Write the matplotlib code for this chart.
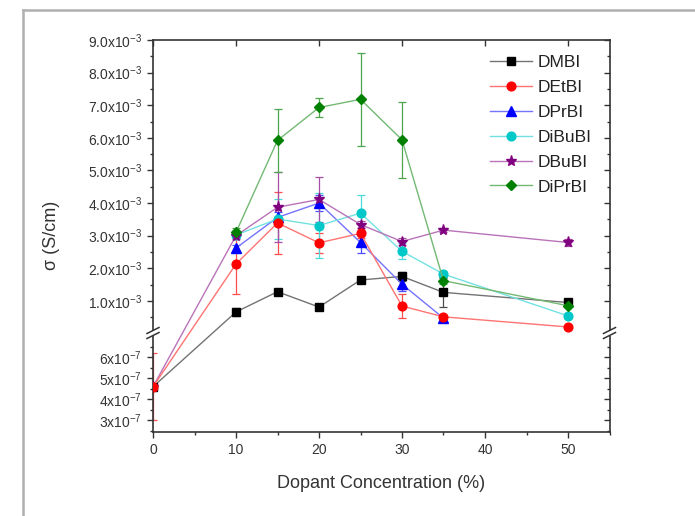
import numpy as np
import matplotlib
matplotlib.use("Agg")
import matplotlib.pyplot as plt
from matplotlib.lines import Line2D
from matplotlib.patches import Rectangle
from matplotlib.ticker import FixedLocator, FixedFormatter

plt.rcParams['font.family'] = ['Liberation Sans', 'DejaVu Sans']
plt.rcParams['mathtext.fontset'] = 'custom'
plt.rcParams['mathtext.rm'] = 'Liberation Sans'
plt.rcParams['mathtext.it'] = 'Liberation Sans:italic'
plt.rcParams['mathtext.bf'] = 'Liberation Sans:bold'

# ---------------- data ----------------
names = ["DMBI", "DEtBI", "DPrBI", "DiBuBI", "DBuBI", "DiPrBI"]

x_dmbi = [0, 10, 15, 20, 25, 30, 35, 50]
y_dmbi = [4.6e-7, 0.66e-3, 1.28e-3, 0.81e-3, 1.64e-3, 1.75e-3, 1.26e-3, 0.95e-3]
e_dmbi = [0, 0.12e-3, 0.05e-3, 0.05e-3, 0.05e-3, 0.14e-3, 0.45e-3, 0.12e-3]

x_detbi = [0, 10, 15, 20, 25, 30, 35, 50]
y_detbi = [4.6e-7, 2.13e-3, 3.39e-3, 2.78e-3, 3.07e-3, 0.84e-3, 0.51e-3, 0.20e-3]
e_detbi = [1.6e-7, 0.92e-3, 0.95e-3, 0.30e-3, 0.15e-3, 0.37e-3, 0.05e-3, 0.03e-3]

x_dprbi = [10, 15, 20, 25, 30, 35]
y_dprbi = [2.62e-3, 3.56e-3, 4.00e-3, 2.79e-3, 1.51e-3, 0.47e-3]
e_dprbi = [0.10e-3, 0.15e-3, 0.25e-3, 0.33e-3, 0.20e-3, 0.05e-3]

x_dibubi = [10, 15, 20, 25, 30, 35, 50]
y_dibubi = [3.02e-3, 3.51e-3, 3.31e-3, 3.69e-3, 2.52e-3, 1.82e-3, 0.54e-3]
e_dibubi = [0.10e-3, 0.60e-3, 1.00e-3, 0.56e-3, 0.25e-3, 0.10e-3, 0.05e-3]

x_dbubi = [0, 10, 15, 20, 25, 30, 35, 50]
y_dbubi = [4.6e-7, 3.00e-3, 3.87e-3, 4.11e-3, 3.34e-3, 2.82e-3, 3.17e-3, 2.79e-3]
e_dbubi = [0, 0.10e-3, 1.08e-3, 0.68e-3, 0.12e-3, 0.10e-3, 0.05e-3, 0.10e-3]

x_diprbi = [10, 15, 20, 25, 30, 35, 50]
y_diprbi = [3.10e-3, 5.92e-3, 6.93e-3, 7.18e-3, 5.94e-3, 1.62e-3, 0.85e-3]
e_diprbi = [0.12e-3, 0.97e-3, 0.29e-3, 1.43e-3, 1.17e-3, 0.10e-3, 0.05e-3]

upper_ticks = [1e-3, 2e-3, 3e-3, 4e-3, 5e-3, 6e-3, 7e-3, 8e-3, 9e-3]
upper_labels = ["1.0x10$^{-3}$", "2.0x10$^{-3}$", "3.0x10$^{-3}$", "4.0x10$^{-3}$",
                "5.0x10$^{-3}$", "6.0x10$^{-3}$", "7.0x10$^{-3}$", "8.0x10$^{-3}$",
                "9.0x10$^{-3}$"]
lower_ticks = [3e-7, 4e-7, 5e-7, 6e-7]
lower_labels = ["3x10$^{-7}$", "4x10$^{-7}$", "5x10$^{-7}$", "6x10$^{-7}$"]

# ---------------- broken scale ----------------
LOW0 = 2.45e-7
BRK = 7.15e-7
LOW_PX = 20.9e7     # px per unit in lower part
UP_PX = 32.6e3      # px per unit in upper part
U0 = (BRK - LOW0) * LOW_PX

def fwd(y):
    y = np.asarray(y, dtype=float)
    return np.where(y <= BRK, (y - LOW0) * LOW_PX, U0 + (y - BRK) * UP_PX)

def inv(u):
    u = np.asarray(u, dtype=float)
    return np.where(u <= U0, LOW0 + u / LOW_PX, BRK + (u - U0) / UP_PX)

W, H = 695, 516
fig = plt.figure(figsize=(W / 100, H / 100), dpi=100)
L, R, T, B = 153, 609.5, 40, 431.7
ax = fig.add_axes([L / W, 1 - B / H, (R - L) / W, (B - T) / H])
ax.set_yscale('function', functions=(fwd, inv))

series = [
    (names[0], x_dmbi, y_dmbi, e_dmbi, '#000000', 's', 5.5, 3),
    (names[1], x_detbi, y_detbi, e_detbi, '#ff0000', 'o', 6.3, 6),
    (names[2], x_dprbi, y_dprbi, e_dprbi, '#0000ff', '^', 6.5, 4),
    (names[3], x_dibubi, y_dibubi, e_dibubi, '#00c8c8', 'o', 6.3, 4),
    (names[4], x_dbubi, y_dbubi, e_dbubi, '#800080', '*', 8.0, 5),
    (names[5], x_diprbi, y_diprbi, e_diprbi, '#008000', 'D', 5.5, 5),
]

def lighten(c, f):
    rgb = np.array(matplotlib.colors.to_rgb(c))
    return tuple(rgb + (1 - rgb) * f)

handles = []
for name, xs, ys, es, col, mk, ms, z in series:
    lc = lighten(col, 0.45)
    ax.errorbar(xs, ys, yerr=es, fmt='none', ecolor=lighten(col, 0.3), elinewidth=0.9,
                capsize=3, capthick=0.9, zorder=1.8)
    ln, = ax.plot(xs, ys, color=lc, lw=1.0, marker=mk, markersize=ms,
                  markerfacecolor=col, markeredgecolor=col, label=name, zorder=z)
    handles.append(ln)

ax.set_xlim(0, 55)
ax.set_ylim(LOW0, 9.0e-3)

# white band hiding lines crossing the break
ax.axhspan(7.0e-7, 1.45e-4, xmin=0.003, xmax=0.997, color='white', zorder=2.05, lw=0)

ax.yaxis.set_major_locator(FixedLocator(lower_ticks + upper_ticks))
ax.yaxis.set_major_formatter(FixedFormatter(lower_labels + upper_labels))
minor_y = [2.5e-7, 3.5e-7, 4.5e-7, 5.5e-7, 6.5e-7] + [0.5e-3 + i * 1e-3 for i in range(9)]
ax.yaxis.set_minor_locator(FixedLocator(minor_y))
ax.xaxis.set_major_locator(FixedLocator([0, 10, 20, 30, 40, 50]))
ax.xaxis.set_minor_locator(FixedLocator([5, 15, 25, 35, 45, 55]))

ax.tick_params(axis='both', which='major', length=4.5, width=1.0, color='#333333',
               labelsize=10, labelcolor='#333333')
ax.tick_params(axis='both', which='minor', length=2.5, width=1.0, color='#333333')
ax.tick_params(axis='y', which='both', left=True, right=True, direction='out')
ax.tick_params(axis='x', which='both', bottom=True, top=True, direction='out')
# top/right inward
for t in ax.yaxis.get_major_ticks() + ax.yaxis.get_minor_ticks():
    t.tick2line.set_marker(matplotlib.lines.TICKLEFT)
for t in ax.xaxis.get_major_ticks() + ax.xaxis.get_minor_ticks():
    t.tick2line.set_marker(matplotlib.lines.TICKDOWN)
ax.xaxis.set_tick_params(which='minor', top=False)

for s in ax.spines.values():
    s.set_linewidth(1.2)
    s.set_color('#333333')

ax.set_xlabel("Dopant Concentration (%)", fontsize=13, color='#333333', labelpad=13)
ax.set_ylabel("σ (S/cm)", fontsize=13, color='#333333', labelpad=20)

# break marks on both spines
yb = (B - 333) / (B - T)
dxp, dyp = 1.0 / (R - L), 1.0 / (B - T)
for xs in (0.0, 1.0):
    ax.add_patch(Rectangle((xs - 4 * dxp, yb - 2.5 * dyp), 8 * dxp, 5 * dyp,
                           transform=ax.transAxes, facecolor='white', edgecolor='none',
                           clip_on=False, zorder=5))
    for off in (-2.5, 2.5):
        ax.add_line(Line2D([xs - 6 * dxp, xs + 6 * dxp],
                           [yb + (off - 3) * dyp, yb + (off + 3) * dyp],
                           transform=ax.transAxes, color='#333333', lw=1.1,
                           clip_on=False, zorder=6))

leg = ax.legend(handles=handles, loc='upper left',
                bbox_to_anchor=((490 - L) / (R - L), (B - 55) / (B - T)),
                frameon=False, fontsize=12.5, handlelength=2.4, handletextpad=0.35,
                labelspacing=0.56, borderpad=0, borderaxespad=0)
for txt in leg.get_texts():
    txt.set_color('#222222')

# outer frame
fig.add_artist(Line2D([23 / W, 1.0], [1 - 10 / H, 1 - 10 / H], transform=fig.transFigure,
                      color='#b0b0b0', lw=1.8))
fig.add_artist(Line2D([23 / W, 23 / W], [0.0, 1 - 10 / H], transform=fig.transFigure,
                      color='#b0b0b0', lw=1.8))

fig.savefig("out.png", dpi=100)
